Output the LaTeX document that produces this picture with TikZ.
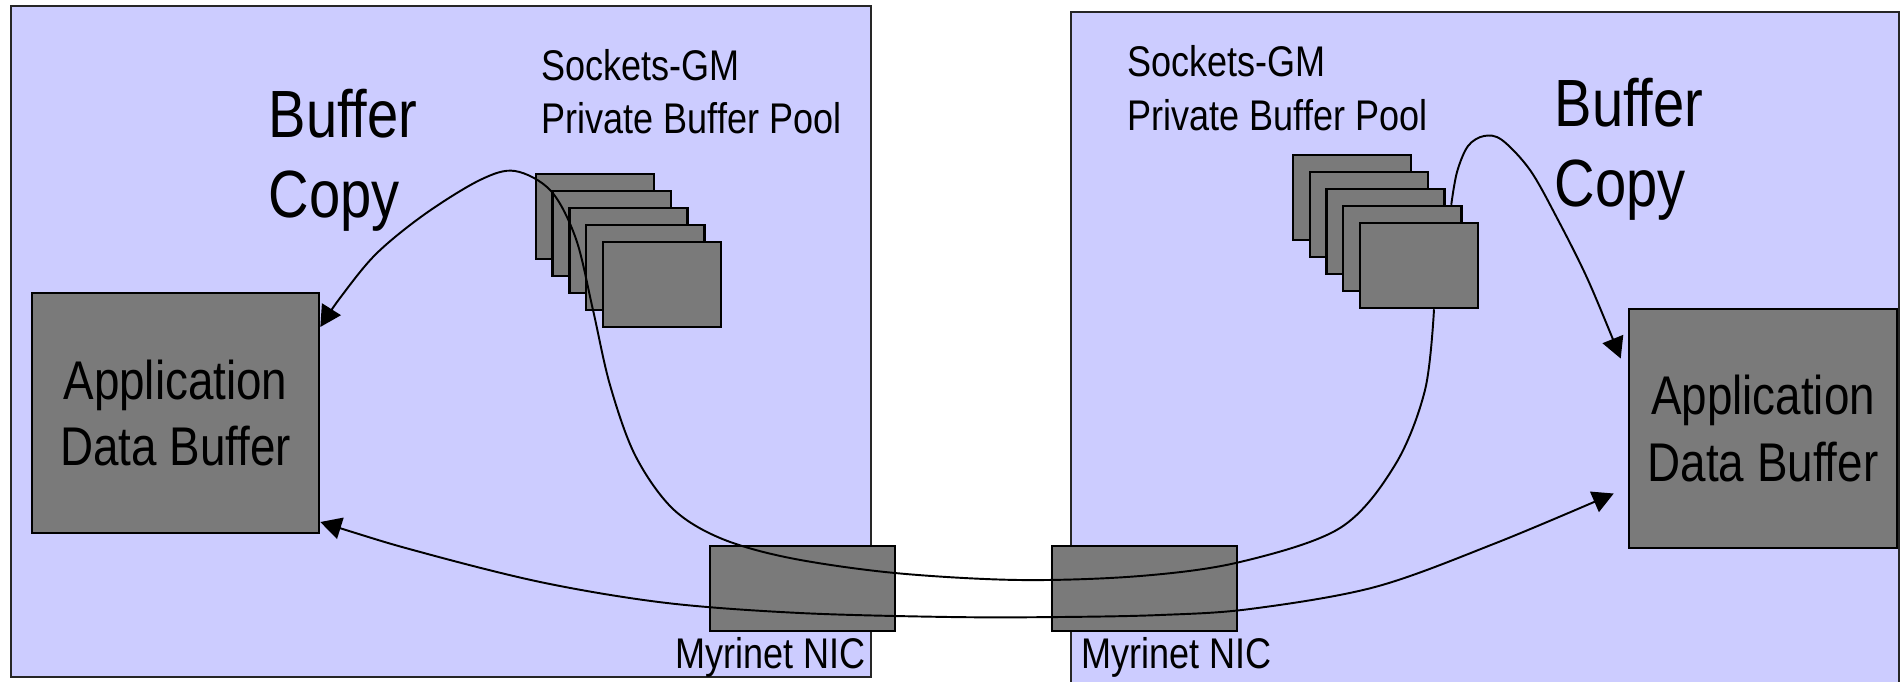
\documentclass[tikz,border=0pt]{standalone}
\usepackage{fontspec}
\setmainfont{Liberation Sans}[FakeStretch=0.84]
\usetikzlibrary{arrows.meta,calc}
\definecolor{hostfill}{RGB}{204,204,255}
\definecolor{bufgray}{RGB}{122,122,122}
\begin{document}
\begin{tikzpicture}[x=0.01cm,y=-0.01cm,
  host/.style={draw=black!85,fill=hostfill,line width=0.6pt},
  buf/.style={draw=black,fill=bufgray,line width=0.7pt,inner sep=0pt},
  appbuf/.style={buf,align=center,font=\fontsize{15.5}{19}\selectfont},
  slot/.style={buf,minimum width=1.18cm,minimum height=0.85cm},
  nic/.style={buf,minimum width=1.85cm,minimum height=0.85cm},
  big/.style={inner sep=0pt,anchor=base west,font=\fontsize{19}{23}\selectfont},
  small/.style={inner sep=0pt,anchor=base west,font=\fontsize{12.2}{15}\selectfont},
  tip/.tip={Triangle[length=0.21cm,width=0.22cm]},
  flow/.style={line width=0.55pt,-tip},
  flow2/.style={line width=0.55pt,tip-tip}]
\useasboundingbox (0,0) rectangle (1900,681);

% the two hosts
\draw[host] (11,6) rectangle (871,677);
\draw[host] (1071,12) rectangle (1899,700);

% application data buffers
\node[appbuf,minimum width=2.87cm,minimum height=2.40cm] (lapp) at (175.5,413) {Application\\Data Buffer};
\node[appbuf,minimum width=2.68cm,minimum height=2.39cm] (rapp) at (1763,428.5) {Application\\Data Buffer};

% private buffer pools
\foreach \k in {0,...,4}{
  \node[slot] (ls\k) at ({595+16.75*\k},{216.5+17*\k}) {};
  \node[slot] (rs\k) at ({1352+16.75*\k},{197.5+17*\k}) {};
}

% network interfaces
\node[nic] (lnic) at (802.5,588.5) {};
\node[nic] (rnic) at (1144.5,588.5) {};

% labels
\node[small] (lsock1) at (541,80) {Sockets-GM};
\node[small] (lsock2) at (541,133) {Private Buffer Pool};
\node[small] (rsock1) at (1127,76) {Sockets-GM};
\node[small] (rsock2) at (1127,130) {Private Buffer Pool};
\node[big] (lcopy1) at (268,137) {Buffer};
\node[big] (lcopy2) at (268,217) {Copy};
\node[big] (rcopy1) at (1554,126) {Buffer};
\node[big] (rcopy2) at (1554,206) {Copy};
\node[small,anchor=base east] (lniclbl) at (866,668) {Myrinet NIC};
\node[small] (rniclbl) at (1081,668) {Myrinet NIC};

% connector ends
\coordinate (rsOut) at ($(rs4.south)+(15,0)$);
\coordinate (rsTop) at ($(rs3.north)+(49,0)$);
\coordinate (lappHi) at ($(lapp.east)+(0,-86)$);
\coordinate (lappLo) at ($(lapp.east)+(0,109)$);
\coordinate (rappHi) at ($(rapp.west)+(-7,-70)$);
\coordinate (rappLo) at ($(rapp.west)+(-14,65)$);

% receive path through the pool and buffer copy on the left host
\draw[flow] plot[smooth,tension=0.55] coordinates {
  (rsOut) (1425,390) (1395,465) (1340,528) (1240,562) (1140,576)
  (1020,580) (895,573) (790,558) (720,538) (672,508) (635,455)
  (610,385) (593,310) (576,239) (551,191) (515,171) (480,180)
  (425,214) (376,254) (340,298) (lappHi)};

% buffer copy on the right host
\draw[flow] plot[smooth,tension=0.55] coordinates {
  (rsTop) (1457,172) (1468,146) (1484,136) (1502,140) (1530,170)
  (1557,218) (1588,280) (rappHi)};

% direct path between the two application buffers
\draw[flow2] plot[smooth,tension=0.55] coordinates {
  (lappLo) (424,553) (545,583) (667,603) (800,613) (950,617)
  (1060,617) (1160,615) (1250,609) (1375,587) (1496,543) (rappLo)};
\end{tikzpicture}
\end{document}
